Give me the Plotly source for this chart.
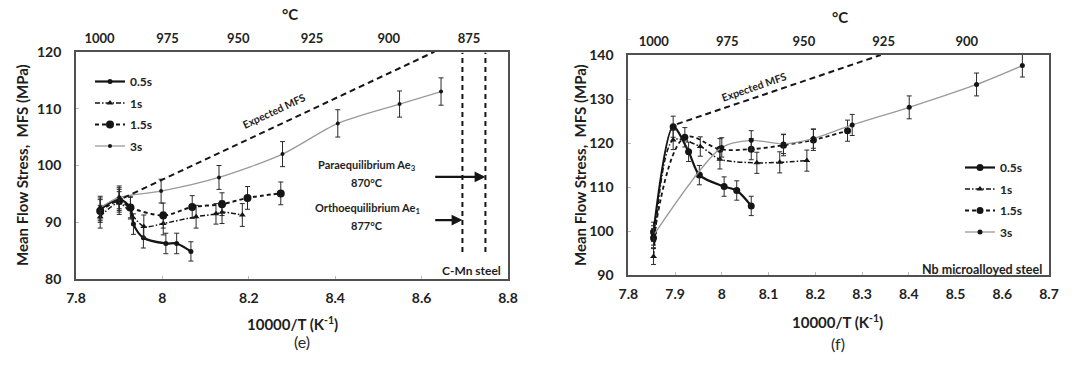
import plotly.graph_objects as go

# ---------------- data: panel (e) C-Mn steel ----------------
e_05_x = [7.856, 7.900, 7.926, 7.933, 7.956, 8.008, 8.033, 8.066]
e_05_y = [92.3, 94.1, 92.6, 89.7, 87.3, 86.3, 86.3, 84.9]
e_05_err = [2.0, 2.0, 1.8, 1.8, 1.8, 1.8, 1.8, 1.7]

e_1_x = [7.856, 7.900, 7.957, 8.002, 8.078, 8.124, 8.138, 8.185]
e_1_y = [91.0, 93.4, 89.3, 89.8, 91.0, 91.5, 91.8, 91.3]
e_1_err = [2.0, 2.0, 2.0, 2.0, 2.0, 1.8, 2.0, 2.0]

e_15_x = [7.856, 7.900, 7.926, 8.002, 8.069, 8.138, 8.197, 8.274]
e_15_y = [92.0, 93.8, 92.6, 91.2, 92.7, 93.2, 94.3, 95.1]
e_15_err = [2.0, 2.0, 2.0, 2.2, 2.0, 2.0, 2.0, 2.0]

e_3_x = [7.856, 7.900, 7.997, 8.131, 8.278, 8.406, 8.549, 8.645]
e_3_y = [92.6, 94.4, 95.5, 97.9, 102.0, 107.4, 110.8, 113.0]
e_3_err = [2.0, 2.0, 2.1, 2.1, 2.2, 2.4, 2.3, 2.4]

e_exp_x = [7.910, 8.630]
e_exp_y = [94.3, 120.0]

ortho_T = 877.0   # deg C
para_T = 870.0    # deg C

# ---------------- data: panel (f) Nb microalloyed steel ----------------
f_05_x = [7.854, 7.896, 7.929, 7.952, 8.005, 8.032, 8.063]
f_05_y = [99.8, 123.7, 118.0, 112.7, 110.1, 109.2, 105.7]
f_05_err = [2.2, 2.4, 2.2, 2.2, 2.2, 2.2, 2.2]

f_1_x = [7.854, 7.896, 7.954, 7.996, 8.075, 8.124, 8.182]
f_1_y = [94.2, 120.7, 119.2, 116.3, 115.5, 115.6, 116.0]
f_1_err = [1.8, 2.2, 2.2, 2.2, 2.4, 2.4, 2.4]

f_15_x = [7.854, 7.921, 7.996, 8.063, 8.132, 8.196, 8.269]
f_15_y = [98.4, 121.3, 118.6, 118.6, 119.5, 120.7, 122.8]
f_15_err = [2.2, 2.2, 2.4, 2.4, 2.4, 2.4, 2.4]

f_3_x = [7.854, 8.000, 8.063, 8.132, 8.196, 8.279, 8.401, 8.545, 8.643]
f_3_y = [99.0, 119.0, 120.6, 119.8, 121.0, 124.1, 128.1, 133.3, 137.6]
f_3_err = [2.2, 2.2, 2.2, 2.2, 2.2, 2.4, 2.6, 2.6, 2.6]

f_exp_x = [7.904, 8.340]
f_exp_y = [124.3, 140.0]

e_top_T = [1000, 975, 950, 925, 900, 875]
f_top_T = [1000, 975, 950, 925, 900]

series_names = ["0.5s", "1s", "1.5s", "3s"]

# ---------------- styling ----------------
FONT = "Lato, Carlito, Calibri, sans-serif"
BLACK = "#151515"
GREY = "#9a9a9a"
FRAME = "#505050"

def inv(T):
    return 10000.0 / (T + 273.15)

fig = go.Figure()

def add_series(x, y, err, name, xa, ya, leg, line, marker):
    fig.add_trace(go.Scatter(
        x=x, y=y, name=name, xaxis=xa, yaxis=ya, legend=leg,
        legendgroup=leg + name, mode="lines+markers",
        line=line, marker=marker,
        error_y=dict(type="data", array=err, visible=True, color="#2a2a2a",
                     thickness=1, width=2.5),
    ))

styles_e = [
    (dict(color=BLACK, width=2.2, shape="spline", smoothing=0.8), dict(symbol="circle", size=5, color=BLACK)),
    (dict(color=BLACK, width=1.5, dash="5px,2px,1.5px,2px", shape="spline", smoothing=0.8), dict(symbol="triangle-up", size=6, color=BLACK)),
    (dict(color=BLACK, width=2.0, dash="4px,3px", shape="spline", smoothing=0.8), dict(symbol="circle", size=8, color=BLACK)),
    (dict(color=GREY, width=1.3, shape="spline", smoothing=0.8), dict(symbol="circle", size=4, color=BLACK)),
]
styles_f = [
    (dict(color=BLACK, width=2.2, shape="spline", smoothing=0.8), dict(symbol="circle", size=7, color=BLACK)),
    (dict(color=BLACK, width=1.5, dash="5px,2px,1.5px,2px", shape="spline", smoothing=0.8), dict(symbol="triangle-up", size=6, color=BLACK)),
    (dict(color=BLACK, width=1.8, dash="4px,3px", shape="spline", smoothing=1.0), dict(symbol="circle", size=7, color=BLACK)),
    (dict(color=GREY, width=1.3, shape="spline", smoothing=0.8), dict(symbol="circle", size=5, color=BLACK)),
]

e_data = [(e_05_x, e_05_y, e_05_err), (e_1_x, e_1_y, e_1_err),
          (e_15_x, e_15_y, e_15_err), (e_3_x, e_3_y, e_3_err)]
f_data = [(f_05_x, f_05_y, f_05_err), (f_1_x, f_1_y, f_1_err),
          (f_15_x, f_15_y, f_15_err), (f_3_x, f_3_y, f_3_err)]

for (x, y, err), nm, (ln, mk) in zip(e_data, series_names, styles_e):
    add_series(x, y, err, nm, "x", "y", "legend", ln, mk)
for (x, y, err), nm, (ln, mk) in zip(f_data, series_names, styles_f):
    add_series(x, y, err, nm, "x2", "y2", "legend2", ln, mk)

# expected MFS lines
fig.add_trace(go.Scatter(x=e_exp_x, y=e_exp_y, xaxis="x", yaxis="y", mode="lines",
                         line=dict(color=BLACK, width=2, dash="6px,4px"), showlegend=False))
fig.add_trace(go.Scatter(x=f_exp_x, y=f_exp_y, xaxis="x2", yaxis="y2", mode="lines",
                         line=dict(color=BLACK, width=2, dash="6px,4px"), showlegend=False))

# Ae3 vertical dashed lines
for T in (ortho_T, para_T):
    fig.add_trace(go.Scatter(x=[inv(T), inv(T)], y=[84.8, 119.8], xaxis="x", yaxis="y",
                             mode="lines", line=dict(color=BLACK, width=2, dash="5px,4px"),
                             showlegend=False))

ann = []
def txt(x, y, s, size=12, xref="paper", yref="paper", **kw):
    d = dict(x=x, y=y, xref=xref, yref=yref, text=s, showarrow=False,
             xanchor="center", yanchor="middle",
             font=dict(family=FONT, size=size, color="#1e1e1e", weight="bold"))
    d.update(kw)
    ann.append(d)

W, H = 1080.0, 369.0
def px(p):
    return p / W
def py(p):
    return 1 - p / H

# arrows
ann.append(dict(x=inv(para_T), y=98.0, ax=8.628, ay=98.0, xref="x", yref="y", axref="x", ayref="y",
                showarrow=True, arrowhead=2, arrowsize=0.9, arrowwidth=2.4, arrowcolor=BLACK, text=""))
ann.append(dict(x=inv(ortho_T), y=90.4, ax=8.628, ay=90.4, xref="x", yref="y", axref="x", ayref="y",
                showarrow=True, arrowhead=2, arrowsize=0.9, arrowwidth=2.4, arrowcolor=BLACK, text=""))

txt(8.474, 100.0, "Paraequilibrium Ae<sub>3</sub>", size=11, xref="x", yref="y")
txt(8.474, 97.1, "870°C", size=11, xref="x", yref="y")
txt(8.474, 92.4, "Orthoequilibrium Ae<sub>1</sub>", size=11, xref="x", yref="y")
txt(8.474, 89.4, "877°C", size=11, xref="x", yref="y")
txt(8.788, 81.6, "C-Mn steel", size=12, xref="x", yref="y", xanchor="right")
txt(8.258, 109.6, "Expected MFS", size=10.5, xref="x", yref="y", textangle=-25)
txt(8.068, 132.8, "Expected MFS", size=10.5, xref="x2", yref="y2", textangle=-19)
txt(8.690, 91.3, "Nb microalloyed steel", size=12.5, xref="x2", yref="y2", xanchor="right")

# axis titles and panel labels
txt(px(22), py(165), "Mean Flow Stress,  MFS (MPa)", size=15, textangle=-90)
txt(px(580), py(165), "Mean Flow Stress,  MFS (MPa)", size=15, textangle=-90)
txt(px(292), py(323), "10000/T (K<sup>-1</sup>)", size=15)
txt(px(837), py(321), "10000/T (K<sup>-1</sup>)", size=15)
txt(px(290), py(14), "°C", size=15)
txt(px(840), py(17), "°C", size=15)
ann.append(dict(x=px(292), y=py(353), xref="paper", yref="paper", text="(e)", showarrow=False,
                font=dict(family=FONT, size=16, color="#2a2a2a")))
ann.append(dict(x=px(847), y=py(355), xref="paper", yref="paper", text="(f)", showarrow=False,
                font=dict(family=FONT, size=16, color="#2a2a2a")))

tickfont = dict(family=FONT, size=14, color="#222", weight="bold")
toptickfont = dict(family=FONT, size=13, color="#222", weight="bold")
frame = dict(showline=True, mirror=True, linecolor=FRAME, linewidth=1.8, showgrid=False,
             zeroline=False, ticks="inside", ticklen=3, tickcolor="#bbbbbb", tickfont=tickfont,
             automargin=False)

legfont = dict(family=FONT, size=12, color="#222", weight="bold")

fig.update_layout(
    width=1080, height=369, margin=dict(l=0, r=0, t=0, b=0, pad=0), autosize=False,
    paper_bgcolor="white", plot_bgcolor="white",
    font=dict(family=FONT),
    annotations=ann,
    xaxis=dict(domain=[px(76), px(508)], range=[7.8, 8.8], dtick=0.2, tick0=7.8,
               anchor="y", ticklabelstandoff=5, **frame),
    yaxis=dict(domain=[py(279.3), py(51.7)], range=[80, 120], dtick=10,
               anchor="x", ticklabelstandoff=10, **frame),
    xaxis2=dict(domain=[px(628.3), px(1049)], range=[7.8, 8.7], dtick=0.1, tick0=7.8,
                anchor="y2", ticklabelstandoff=5, **frame),
    yaxis2=dict(domain=[py(275), py(55)], range=[90, 140], dtick=10,
                anchor="x2", ticklabelstandoff=10, **frame),
    xaxis3=dict(overlaying="x", side="top", anchor="y", range=[7.8, 8.8],
                tickvals=[inv(t) for t in e_top_T], ticktext=[str(t) for t in e_top_T],
                showgrid=False, zeroline=False, showline=False, ticks="",
                tickfont=toptickfont, ticklabelstandoff=5, automargin=False),
    xaxis4=dict(overlaying="x2", side="top", anchor="y2", range=[7.8, 8.7],
                tickvals=[inv(t) for t in f_top_T], ticktext=[str(t) for t in f_top_T],
                showgrid=False, zeroline=False, showline=False, ticks="",
                tickfont=toptickfont, ticklabelstandoff=5, automargin=False),
    legend=dict(x=px(90), y=py(67), xanchor="left", yanchor="top", bgcolor="rgba(0,0,0,0)",
                font=legfont, itemwidth=30, tracegroupgap=2.5, traceorder="grouped"),
    legend2=dict(x=px(960), y=py(153), xanchor="left", yanchor="top", bgcolor="rgba(0,0,0,0)",
                 font=legfont, itemwidth=30, tracegroupgap=2.5, traceorder="grouped"),
)

# invisible traces so the top axes are rendered
fig.add_trace(go.Scatter(x=[7.8], y=[None], xaxis="x3", yaxis="y", showlegend=False, hoverinfo="skip"))
fig.add_trace(go.Scatter(x=[7.8], y=[None], xaxis="x4", yaxis="y2", showlegend=False, hoverinfo="skip"))

fig.write_html("out.html", config={"displayModeBar": False},
               post_script="document.body.style.margin='0';document.body.style.overflow='hidden';")
